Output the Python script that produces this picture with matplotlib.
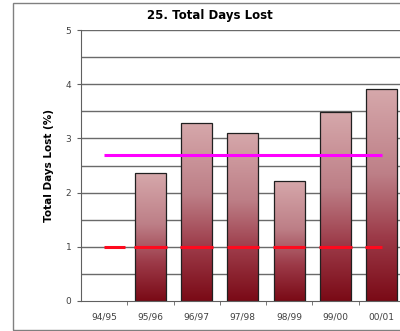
import numpy as np
import matplotlib
matplotlib.use("Agg")
import matplotlib.pyplot as plt
from matplotlib.patches import Rectangle
from matplotlib.colors import LinearSegmentedColormap

categories = ["94/95", "95/96", "96/97", "97/98", "98/99", "99/00", "00/01"]
values = [np.nan, 2.36, 3.28, 3.10, 2.22, 3.48, 3.91]
target_magenta = 2.7
target_red = 1.0
line_first, line_last = 0, 6
n_slots = 8  # the plot area continues past the right edge of the picture

fig = plt.figure(figsize=(4.0, 3.31), dpi=100)
# outer chart border
fig.patches.append(Rectangle((13/400, 1/331), 1.2, 327/331, transform=fig.transFigure,
                             fill=False, edgecolor="#808080", lw=1.0))

ax = fig.add_axes([81/400, 30/331, 370/400, 271/331])
x = np.arange(len(categories))

for g in np.arange(0.5, 5.01, 0.5):
    ax.axhline(g, color="#6a6a6a", lw=1.0, zorder=1)

cmap = LinearSegmentedColormap.from_list(
    "bar", [(0.0, "#7a0a16"), (0.3, "#9c3a48"), (0.6, "#bd7f87"), (1.0, "#d6a8ab")])
grad = np.linspace(0, 1, 256).reshape(-1, 1)
bw = 0.67
for xi, v in zip(x, values):
    if np.isnan(v):
        continue
    im = ax.imshow(grad, extent=(xi - bw/2, xi + bw/2, 0, v), origin="lower",
                   cmap=cmap, aspect="auto", zorder=2)
    clip = Rectangle((xi - bw/2, 0), bw, v, transform=ax.transData)
    im.set_clip_path(clip)
    ax.add_patch(Rectangle((xi - bw/2, 0), bw, v, fill=False, edgecolor="#202020",
                           lw=0.9, zorder=3))

ax.set_xlim(-0.5, n_slots - 0.5)
ax.set_ylim(0, 5)

# magenta target line
ax.hlines(target_magenta, line_first, line_last, color="#ff00ff", lw=2.2, zorder=4)
# red dashed target line, dashes centred on categories
for xi in range(line_first, line_last + 1):
    a = max(xi - 0.35, line_first)
    b = min(xi + 0.35 if xi > line_first else xi + 0.45, line_last)
    ax.hlines(target_red, a, b, color="#ff0a1e", lw=2.2, zorder=4)

for s in ["top", "right"]:
    ax.spines[s].set_visible(False)
ax.spines["left"].set_color("#606060")
ax.spines["bottom"].set_color("#606060")

ax.set_yticks(range(0, 6))
ax.set_yticklabels([str(i) for i in range(0, 6)])
ax.set_xticks(x)
ax.set_xticklabels(categories)
ax.set_xticks(np.arange(0.5, n_slots - 0.5, 1), minor=True)
ax.tick_params(axis="x", which="major", length=0, labelsize=6.5, labelcolor="#404040", pad=8)
ax.tick_params(axis="x", which="minor", length=3, color="#606060", direction="out")
ax.tick_params(axis="y", length=3, color="#606060", labelsize=6.5, labelcolor="#404040", pad=4)

ax.set_ylabel("Total Days Lost (%)", fontsize=7.5, fontweight="bold", labelpad=8)
fig.text(210/400, 1 - 16/331, "25. Total Days Lost", ha="center", va="center",
         fontsize=8.5, fontweight="bold")

fig.savefig("out.png", dpi=100)
